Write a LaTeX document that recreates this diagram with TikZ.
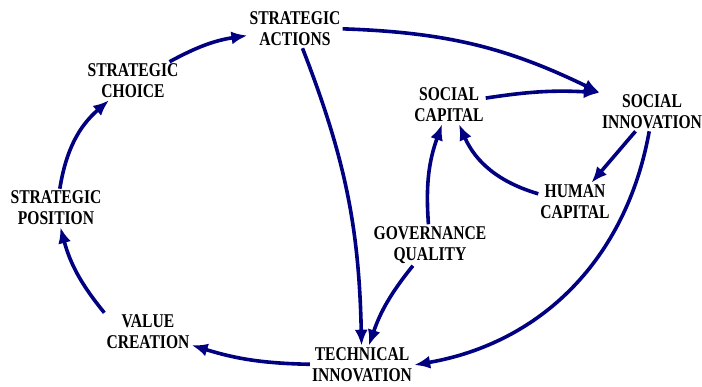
\documentclass[tikz,border=0pt]{standalone}
\usepackage{fontspec}
\setmainfont{Liberation Serif}[FakeStretch=0.8]
\usetikzlibrary{arrows.meta}

\definecolor{linknavy}{RGB}{0,0,128}

\begin{document}
\begin{tikzpicture}[
        x=1pt, y=1pt,
        factor/.style={align=center, inner sep=2pt, font=\fontsize{19.5}{21}\selectfont\bfseries},
        link/.style={-{Latex[length=16pt,width=13pt]}, line width=3.6pt, draw=linknavy}
    ]
        \useasboundingbox (0,0) rectangle (702,387);

        % strategic loop on the left
        \node[factor] (actions)  at (295,358) {STRATEGIC\\ACTIONS};
        \node[factor] (choice)   at (133,306) {STRATEGIC\\CHOICE};
        \node[factor] (position) at (56,179)  {STRATEGIC\\POSITION};
        \node[factor] (value)    at (148,55)  {VALUE\\CREATION};
        \node[factor] (technical) at (362,22) {TECHNICAL\\INNOVATION};

        % social side
        \node[factor] (governance) at (430,142) {GOVERNANCE\\QUALITY};
        \node[factor] (soccapital) at (449,282) {SOCIAL\\CAPITAL};
        \node[factor] (socinnov)   at (652,275) {SOCIAL\\INNOVATION};
        \node[factor] (human)      at (575,185) {HUMAN\\CAPITAL};

        \draw[link] (choice) to[bend left=10] (actions);
        \draw[link] (position) to[bend left=20] (choice);
        \draw[link] (value.north west) to[bend left=12] (position);
        \draw[link] (technical) to[bend left=8] (value);
        \draw[link] (actions) to[bend left=10] (technical);
        \draw[link] (actions) to[bend left=12] (socinnov.north west);
        \draw[link] (soccapital) to[bend left=6] (socinnov.north west);
        \draw[link] (socinnov) -- (human);
        \draw[link] (human) to[bend left=25] (soccapital);
        \draw[link] (governance) to[bend left=12] (soccapital);
        \draw[link] (governance) to[bend right=10] (technical);
        \draw[link] (socinnov) to[bend left=35] (technical.east);
\end{tikzpicture}
\end{document}
